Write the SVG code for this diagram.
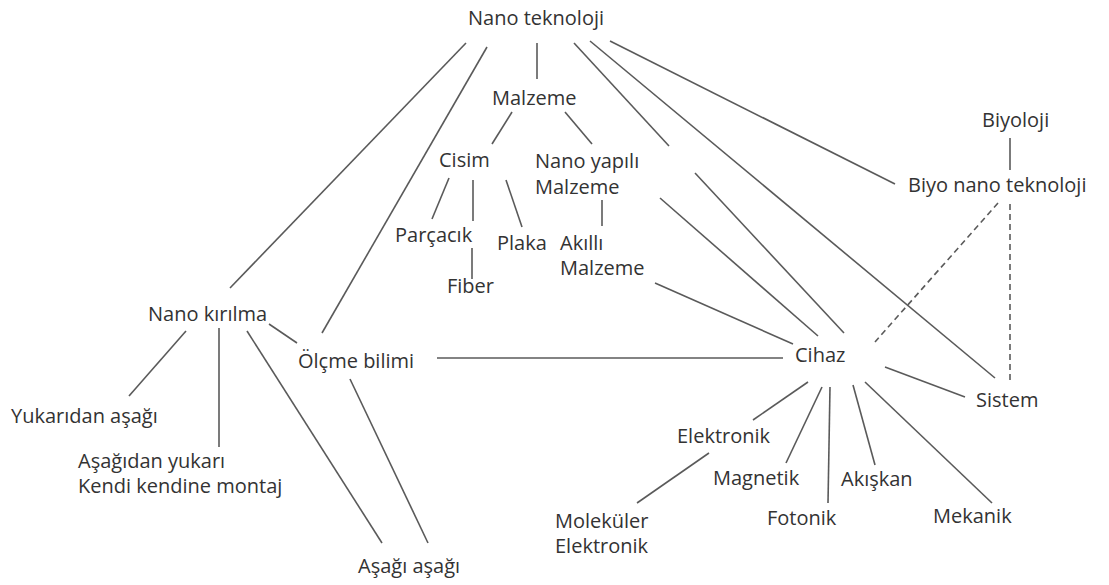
<svg xmlns="http://www.w3.org/2000/svg" width="1109" height="585" viewBox="0 0 1109 585">
<style>
text{font-family:"Open Sans","Liberation Sans",sans-serif;font-size:20px;fill:#333}
.c line{stroke:#5a5a5a;stroke-width:1.6;fill:none}
.c .d{stroke-dasharray:6 4}
</style>
<rect width="1109" height="585" fill="#fff"/>
<g class="c" id="connectors">
<line x1="466" y1="43" x2="230" y2="288"/>
<line x1="487" y1="47" x2="322" y2="333"/>
<line x1="537" y1="43" x2="537" y2="79"/>
<line x1="574" y1="43" x2="669" y2="146"/>
<line x1="695" y1="173" x2="844" y2="333"/>
<line x1="590" y1="41" x2="995" y2="378"/>
<line x1="610" y1="41" x2="895" y2="184"/>
<line x1="512" y1="112" x2="492" y2="144"/>
<line x1="565" y1="112" x2="592" y2="144"/>
<line x1="449" y1="178" x2="432" y2="219"/>
<line x1="473" y1="180" x2="473" y2="221"/>
<line x1="472" y1="248" x2="472" y2="279"/>
<line x1="506" y1="180" x2="522" y2="227"/>
<line x1="602" y1="200" x2="602" y2="226"/>
<line x1="660" y1="198" x2="818" y2="336"/>
<line x1="655" y1="283" x2="793" y2="344"/>
<line x1="437" y1="358" x2="783" y2="358"/>
<line class="d" x1="998" y1="203" x2="875" y2="342"/>
<line class="d" x1="1010" y1="204" x2="1010" y2="380"/>
<line x1="1010" y1="138" x2="1010" y2="170"/>
<line x1="885" y1="367" x2="965" y2="397"/>
<line x1="808" y1="382" x2="753" y2="420"/>
<line x1="822" y1="387" x2="786" y2="463"/>
<line x1="830" y1="387" x2="828" y2="503"/>
<line x1="853" y1="385" x2="875" y2="465"/>
<line x1="865" y1="382" x2="992" y2="503"/>
<line x1="709" y1="453" x2="637" y2="503"/>
<line x1="186" y1="331" x2="129" y2="396"/>
<line x1="219" y1="328" x2="219" y2="447"/>
<line x1="247" y1="331" x2="382" y2="543"/>
<line x1="269" y1="324" x2="297" y2="343"/>
<line x1="350" y1="379" x2="428" y2="543"/>
</g>
<g id="n-nano"><text x="468" y="25">Nano teknoloji</text></g>
<g id="n-malzeme"><text x="492" y="105">Malzeme</text></g>
<g id="n-cisim"><text x="439" y="167">Cisim</text></g>
<g id="n-nanoyapili"><text x="535" y="168">Nano yapılı</text><text x="535" y="194">Malzeme</text></g>
<g id="n-parcacik"><text x="395" y="242">Parçacık</text></g>
<g id="n-plaka"><text x="497" y="250">Plaka</text></g>
<g id="n-akilli"><text x="560" y="250">Akıllı</text><text x="560" y="275">Malzeme</text></g>
<g id="n-fiber"><text x="447" y="293">Fiber</text></g>
<g id="n-kirilma"><text x="148" y="321">Nano kırılma</text></g>
<g id="n-olcme"><text x="298" y="368">Ölçme bilimi</text></g>
<g id="n-yukaridan"><text x="11" y="423">Yukarıdan aşağı</text></g>
<g id="n-asagidan"><text x="78" y="468">Aşağıdan yukarı</text><text x="78" y="493">Kendi kendine montaj</text></g>
<g id="n-asagi"><text x="358" y="573">Aşağı aşağı</text></g>
<g id="n-cihaz"><text x="795" y="362">Cihaz</text></g>
<g id="n-sistem"><text x="976" y="407">Sistem</text></g>
<g id="n-elektronik"><text x="677" y="443">Elektronik</text></g>
<g id="n-magnetik"><text x="713" y="485">Magnetik</text></g>
<g id="n-akiskan"><text x="841" y="486">Akışkan</text></g>
<g id="n-fotonik"><text x="767" y="525">Fotonik</text></g>
<g id="n-mekanik"><text x="933" y="523">Mekanik</text></g>
<g id="n-molekuler"><text x="555" y="528">Moleküler</text><text x="555" y="553">Elektronik</text></g>
<g id="n-biyoloji"><text x="982" y="127">Biyoloji</text></g>
<g id="n-biyonano"><text x="908" y="192">Biyo nano teknoloji</text></g>
</svg>
